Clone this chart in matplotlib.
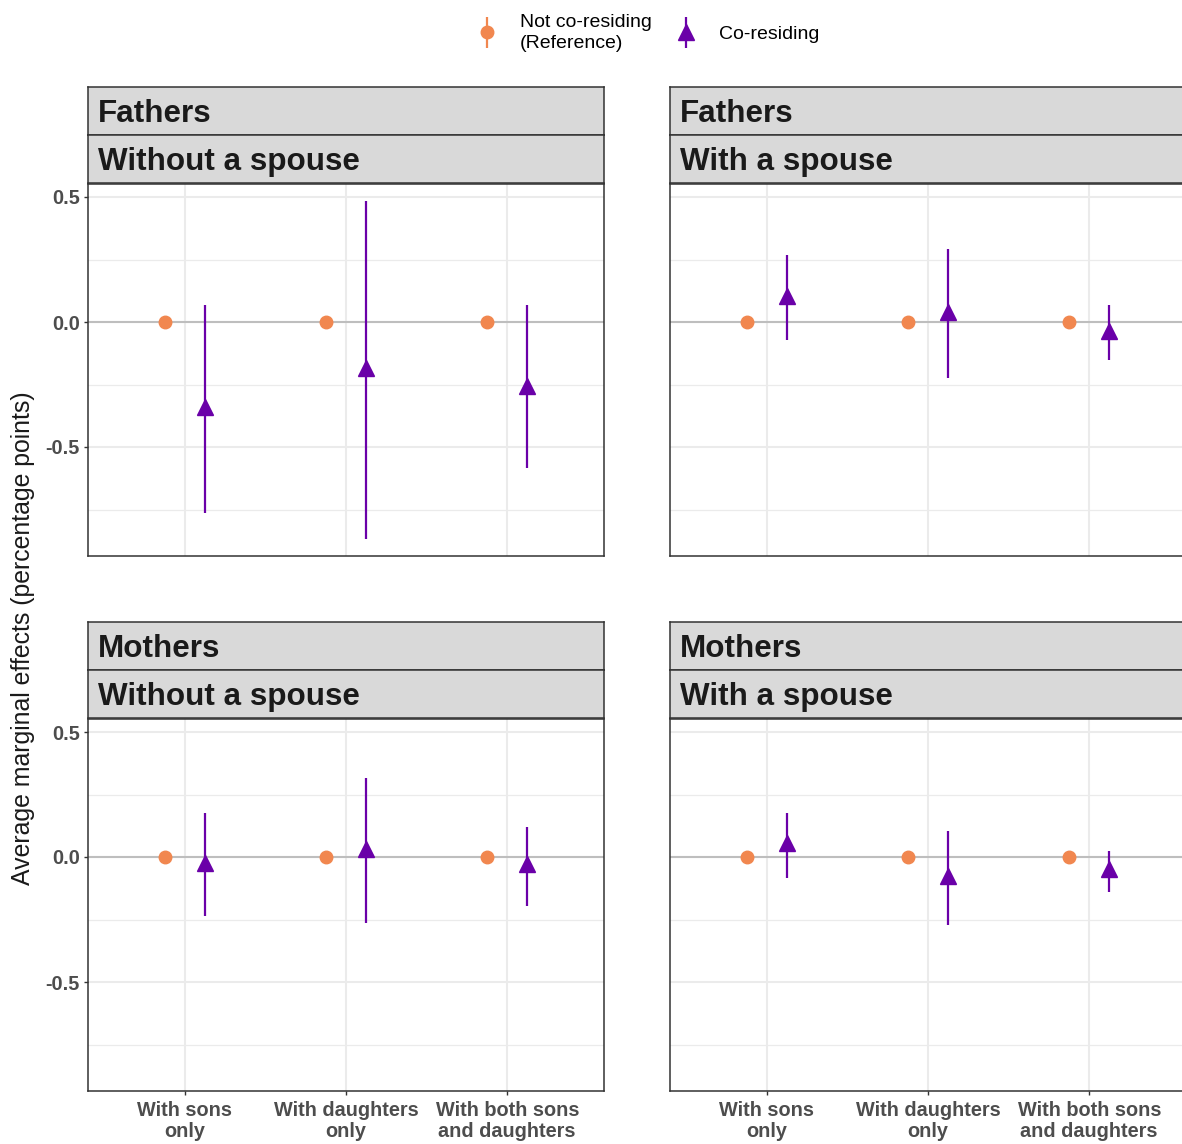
import numpy as np
import matplotlib.pyplot as plt
from matplotlib.container import ErrorbarContainer
from matplotlib.legend_handler import HandlerErrorbar

plt.rcParams['font.family'] = ['Liberation Sans', 'DejaVu Sans']

categories = ['With sons\nonly', 'With daughters\nonly', 'With both sons\nand daughters']
parents = ['Fathers', 'Fathers', 'Mothers', 'Mothers']
spouse = ['Without a spouse', 'With a spouse', 'Without a spouse', 'With a spouse']

# co-residing: average marginal effect with lower / upper CI, one list per panel
fathers_alone_est = [-0.340, -0.185, -0.255]
fathers_alone_lo = [-0.765, -0.868, -0.585]
fathers_alone_hi = [0.068, 0.484, 0.068]

fathers_couple_est = [0.104, 0.040, -0.035]
fathers_couple_lo = [-0.072, -0.224, -0.152]
fathers_couple_hi = [0.268, 0.292, 0.068]

mothers_alone_est = [-0.024, 0.032, -0.028]
mothers_alone_lo = [-0.236, -0.264, -0.196]
mothers_alone_hi = [0.176, 0.316, 0.120]

mothers_couple_est = [0.056, -0.076, -0.048]
mothers_couple_lo = [-0.084, -0.272, -0.140]
mothers_couple_hi = [0.176, 0.104, 0.024]

# not co-residing is the reference category
reference_est = [0.0, 0.0, 0.0]

panel_est = [fathers_alone_est, fathers_couple_est, mothers_alone_est, mothers_couple_est]
panel_lo = [fathers_alone_lo, fathers_couple_lo, mothers_alone_lo, mothers_couple_lo]
panel_hi = [fathers_alone_hi, fathers_couple_hi, mothers_alone_hi, mothers_couple_hi]

ORANGE = '#F1874F'
PURPLE = '#6A00A8'
W, H = 1182, 1144

fig = plt.figure(figsize=(W / 100, H / 100), dpi=100)


def px_axes(x0, y0, x1, y1):
    return fig.add_axes([x0 / W, 1 - y1 / H, (x1 - x0) / W, (y1 - y0) / H])


col_x = [88, 670]
row_y = [184, 719]
pw, ph, sh = 516, 372, 48
x = np.arange(1, len(categories) + 1)
dodge = 0.125
handles = []

for i in range(4):
    r, c = divmod(i, 2)
    x0, y0 = col_x[c], row_y[r]
    ax = px_axes(x0, y0, x0 + pw, y0 + ph)

    ax.axhline(0, color='#BEBEBE', lw=1.5, zorder=1)
    ref = ax.errorbar(x - dodge, reference_est, yerr=[[0, 0, 0], [0, 0, 0]], fmt='o',
                      color=ORANGE, ms=9, lw=1.6, capsize=0, zorder=3,
                      label='Not co-residing\n(Reference)')
    est = np.array(panel_est[i])
    lo = np.array(panel_lo[i])
    hi = np.array(panel_hi[i])
    co = ax.errorbar(x + dodge, est, yerr=[est - lo, hi - est], fmt='^',
                     color=PURPLE, ms=11.5, lw=1.6, capsize=0, zorder=3,
                     label='Co-residing')
    if i == 0:
        handles = [ref, co]

    ax.set_xlim(0.4, 3.6)
    ax.set_ylim(-0.936, 0.552)
    ax.set_xticks(x)
    ax.set_yticks([-0.5, 0.0, 0.5])
    ax.set_yticks([-0.75, -0.25, 0.25], minor=True)
    ax.set_axisbelow(True)
    ax.grid(which='major', color='#EBEBEB', lw=1.5)
    ax.grid(which='minor', axis='y', color='#EBEBEB', lw=0.9)
    ax.tick_params(which='minor', length=0)
    ax.tick_params(which='major', length=3, width=1.0, color='#333333',
                   labelsize=14.3, labelcolor='#4D4D4D', pad=3)
    ax.tick_params(axis='x', pad=4.5)
    for s in ax.spines.values():
        s.set_color('#333333')
        s.set_linewidth(1.1)

    if r == 1:
        ax.set_xticklabels(categories, fontweight='bold', linespacing=1.12)
    else:
        ax.tick_params(axis='x', length=0, labelbottom=False)
    if c == 0:
        ax.set_yticklabels(['-0.5', '0.0', '0.5'], fontweight='bold')
    else:
        ax.tick_params(axis='y', length=0, labelleft=False)

    # two stacked facet strips above each panel
    for k, label in enumerate([parents[i], spouse[i]]):
        top = y0 - sh * (2 - k) - 1
        st = px_axes(x0, top, x0 + pw, top + sh)
        st.set_facecolor('#D9D9D9')
        st.set_xticks([])
        st.set_yticks([])
        for s in st.spines.values():
            s.set_color('#333333')
            s.set_linewidth(1.1)
        st.text(10 / pw, 0.27, label, transform=st.transAxes, fontsize=22.6,
                fontweight='bold', color='#1A1A1A', va='baseline', ha='left')

fig.text(23 / W, 1 - 638 / H, 'Average marginal effects (percentage points)',
         rotation=90, fontsize=17.9, color='#1A1A1A', ha='center', va='center')

leg = fig.legend(handles, ['Not co-residing\n(Reference)', 'Co-residing'],
                 loc='upper center', bbox_to_anchor=(646 / W, 1 - 4 / H), ncol=2,
                 frameon=False, fontsize=14, handlelength=1.5, handletextpad=0.95,
                 columnspacing=1.0, borderpad=0, labelspacing=0,
                 prop={'size': 14},
                 handler_map={ErrorbarContainer: HandlerErrorbar(xerr_size=0.5, yerr_size=0.8)})
for t in leg.get_texts():
    t.set_linespacing(1.3)

fig.savefig('out.png', dpi=100)
